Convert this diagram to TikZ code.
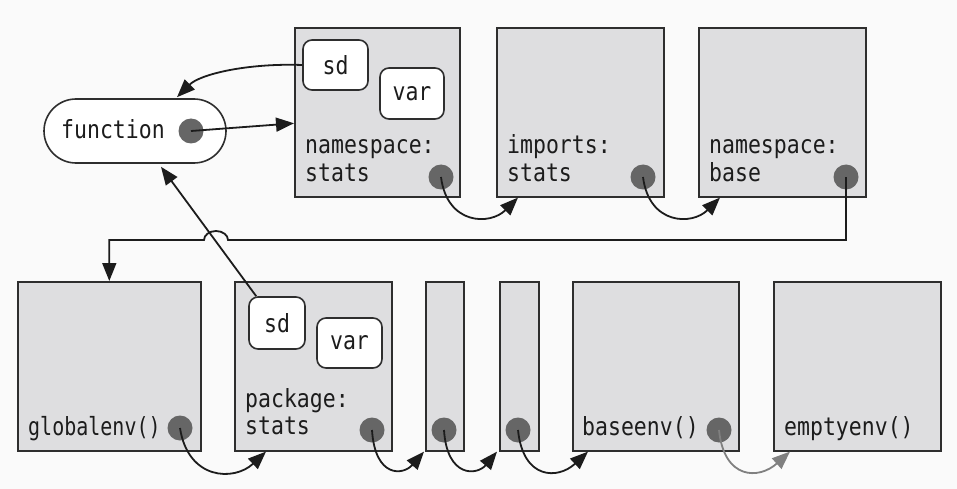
\documentclass[tikz,border=0pt]{standalone}
\usepackage{fontspec}
\setmonofont[FakeStretch=0.86]{DejaVu Sans Mono}
\newfontfamily\narrowmono[FakeStretch=0.80]{DejaVu Sans Mono}
\usetikzlibrary{arrows.meta,calc}
\definecolor{bg}{HTML}{FAFAFA}
\definecolor{boxfill}{HTML}{DEDEE0}
\definecolor{edge}{HTML}{2E2E2E}
\definecolor{dotc}{HTML}{666666}
\definecolor{ink}{HTML}{1C1C1C}
\definecolor{soft}{HTML}{808080}
\begin{document}
\begin{tikzpicture}[x=1pt,y=-1pt,
  envbox/.style={draw=edge,fill=boxfill,line width=1.6pt,inner sep=0pt,anchor=north west},
  bindbox/.style={draw=edge,fill=white,line width=1.6pt,rounded corners=9pt,inner sep=0pt,
    font=\fontsize{25}{28}\selectfont\ttfamily,text=ink},
  dot/.style={circle,fill=dotc,minimum size=25pt,inner sep=0pt},
  lbl/.style={anchor=base west,inner sep=0pt,font=\fontsize{25}{28}\selectfont\ttfamily,text=ink},
  arr/.style={draw=ink,line width=1.8pt,-{Triangle[length=18pt,width=14pt]}},
  arrsoft/.style={draw=soft,line width=1.8pt,-{Triangle[length=18pt,width=14pt]}}]
\fill[bg] (0,0) rectangle (957,489);
\useasboundingbox (0,0) rectangle (957,489);

% ---- function object ----
\node[draw=edge,fill=white,line width=1.6pt,rounded corners=32pt,minimum width=182pt,
  minimum height=64pt,inner sep=0pt] (fn) at (135,131) {};
\node[lbl] (fnl) at (61,139) {function};
\node[dot] (fndot) at (191,131) {};

% ---- top row: namespace / imports / base namespace ----
\node[envbox,minimum width=165pt,minimum height=169pt] (ns) at (294,27) {};
\node[envbox,minimum width=167pt,minimum height=169pt] (imp) at (496,27) {};
\node[envbox,minimum width=167pt,minimum height=169pt] (nsb) at (698,27) {};

\node[bindbox,minimum width=65pt,minimum height=50pt] (sda) at (335.5,65) {sd};
\node[bindbox,minimum width=64pt,minimum height=51pt] (vara) at (412,93.5) {var};

\node[lbl] (nsl1) at ($(ns.south west)+(11,-44)$) {namespace:};
\node[lbl] (nsl2) at ($(ns.south west)+(11,-16)$) {stats};
\node[lbl] (impl1) at ($(imp.south west)+(11,-44)$) {imports:};
\node[lbl] (impl2) at ($(imp.south west)+(11,-16)$) {stats};
\node[lbl] (nsbl1) at ($(nsb.south west)+(11,-44)$) {namespace:};
\node[lbl] (nsbl2) at ($(nsb.south west)+(11,-16)$) {base};

\node[dot] (nsdot) at (441,177) {};
\node[dot] (impdot) at (643,177) {};
\node[dot] (nsbdot) at (846,177) {};

% ---- bottom row: search path ----
\node[envbox,minimum width=183pt,minimum height=169pt] (glob) at (17,281) {};
\node[envbox,minimum width=157pt,minimum height=169pt] (pkg) at (234,281) {};
\node[envbox,minimum width=38pt,minimum height=169pt] (nara) at (425,281) {};
\node[envbox,minimum width=39pt,minimum height=169pt] (narb) at (499,281) {};
\node[envbox,minimum width=166pt,minimum height=169pt] (base) at (572,281) {};
\node[envbox,minimum width=167pt,minimum height=169pt] (empty) at (773,281) {};

\node[bindbox,minimum width=56pt,minimum height=52pt] (sdb) at (277,323) {sd};
\node[bindbox,minimum width=65pt,minimum height=50pt] (varb) at (349.5,343) {var};

\node[lbl,font=\fontsize{25}{28}\selectfont\narrowmono] (globl) at ($(glob.south west)+(11,-16)$) {globalenv()};
\node[lbl] (pkgl1) at ($(pkg.south west)+(11,-44)$) {package:};
\node[lbl] (pkgl2) at ($(pkg.south west)+(11,-17)$) {stats};
\node[lbl] (basel) at ($(base.south west)+(10,-16)$) {baseenv()};
\node[lbl] (emptyl) at ($(empty.south west)+(11,-16)$) {emptyenv()};

\node[dot] (globdot) at (180,428) {};
\node[dot] (pkgdot) at (372,430) {};
\node[dot] (naradot) at (444,430) {};
\node[dot] (narbdot) at (518,430) {};
\node[dot] (basedot) at (719,430) {};

% ---- connectors ----
% function -> its enclosing namespace
\draw[arr] (fndot.center) -- ($(ns.west)+(0,11)$);
% namespace binding -> function
\draw[arr] (sda.west) .. controls ($(sda.west)+(-55,-2)$) and ($(fn.north)+(65,-24)$)
  .. ($(fn.north)+(42,-1)$);
% package binding -> function
\draw[arr] ($(sdb.north west)+(8,0)$) -- ($(fn.south)+(26,3)$);

% namespace chain
\draw[arr] (nsdot.center) .. controls ($(nsdot.center)+(6,48)$) and ($(imp.south west)+(-6,28)$)
  .. ($(imp.south west)+(22,0)$);
\draw[arr] (impdot.center) .. controls ($(impdot.center)+(6,48)$) and ($(nsb.south west)+(-6,28)$)
  .. ($(nsb.south west)+(22,0)$);
% base namespace -> global environment, hopping over the package link
\coordinate (rail) at (0,240);
\draw[arr] (nsbdot.center) -- (nsbdot.center |- rail) -- (228,240)
  arc[start angle=0,end angle=180,x radius=12pt,y radius=9pt]
  -- (glob.north |- rail) -- (glob.north);

% search path chain
\draw[arr] (globdot.center) .. controls ($(globdot.center)+(8,52)$) and ($(pkg.south west)+(0,30)$)
  .. ($(pkg.south west)+(32,0)$);
\draw[arr] (pkgdot.center) .. controls ($(pkgdot.center)+(3,48)$) and ($(nara.south west)+(-22,24)$)
  .. ($(nara.south west)+(-1,0)$);
\draw[arr] (naradot.center) .. controls ($(naradot.center)+(3,48)$) and ($(narb.south west)+(-22,24)$)
  .. ($(narb.south west)+(-2,0)$);
\draw[arr] (narbdot.center) .. controls ($(narbdot.center)+(5,50)$) and ($(base.south west)+(-14,28)$)
  .. ($(base.south west)+(16,0)$);
\draw[arrsoft] (basedot.center) .. controls ($(basedot.center)+(5,50)$) and ($(empty.south west)+(-14,28)$)
  .. ($(empty.south west)+(17,0)$);
\end{tikzpicture}
\end{document}
